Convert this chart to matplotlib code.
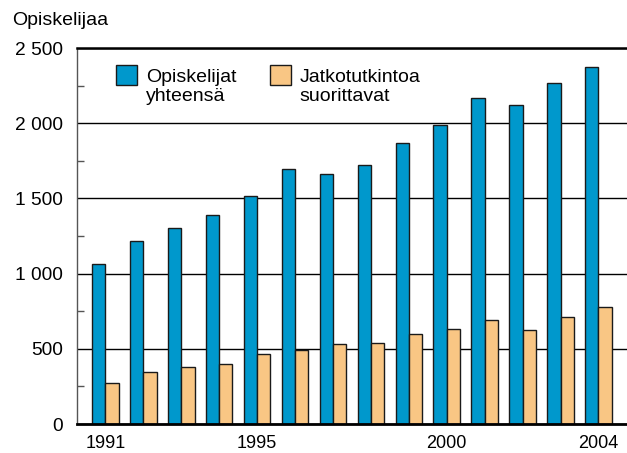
import numpy as np
import matplotlib.pyplot as plt
from matplotlib.patches import Rectangle
from matplotlib.ticker import MultipleLocator, FuncFormatter

plt.rcParams['font.family'] = ['Liberation Sans', 'DejaVu Sans']

years = np.arange(1991, 2005)
opiskelijat = [1066, 1217, 1303, 1388, 1518, 1693, 1664, 1724, 1868, 1988, 2168, 2123, 2265, 2376]
jatko = [275, 344, 377, 401, 468, 492, 532, 541, 598, 629, 689, 623, 714, 780]
xticks = [1991, 1995, 2000, 2004]
series_labels = [['Opiskelijat', 'yhteensä'], ['Jatkotutkintoa', 'suorittavat']]

blue = '#0098CC'
orange = '#F9C684'
edge = '#1a1a1a'
w = 0.35

fig = plt.figure(figsize=(6.27, 4.53), dpi=100)
ax = fig.add_axes([0.1228, 0.064, 0.877, 0.830])

ax.bar(years - w / 2, opiskelijat, width=w, color=blue, edgecolor=edge,
       linewidth=1.0, zorder=3)
ax.bar(years + w / 2, jatko, width=w, color=orange, edgecolor=edge,
       linewidth=1.0, zorder=3)

ax.set_xlim(1990.25, 2004.75)
ax.set_ylim(0, 2500)

ax.yaxis.set_major_locator(MultipleLocator(500))
ax.yaxis.set_minor_locator(MultipleLocator(250))
ax.yaxis.set_major_formatter(FuncFormatter(lambda v, p: f'{int(v):,}'.replace(',', ' ')))
ax.grid(axis='y', which='major', color='black', linewidth=1.0, zorder=1)
ax.tick_params(axis='y', which='major', length=0, pad=10, labelsize=13.8)
ax.tick_params(axis='y', which='minor', direction='in', length=5, width=1, color='#555555')

ax.set_xticks(xticks)
ax.set_xticklabels([str(y) for y in xticks])
ax.tick_params(axis='x', length=0, pad=8, labelsize=13)

ax.spines['right'].set_visible(False)
ax.spines['top'].set_linewidth(1.8)
ax.spines['bottom'].set_linewidth(2.0)
ax.spines['left'].set_color('#555555')
ax.spines['left'].set_linewidth(1.0)
ax.spines['bottom'].set_zorder(4)

# legend: square swatch aligned with the first line of a two-line label
for (sx, tx), color, lines in zip([(0.0704, 0.125), (0.351, 0.405)],
                                   [blue, orange], series_labels):
    ax.add_patch(Rectangle((sx, 0.9016), 0.0382, 0.0532, transform=ax.transAxes,
                           facecolor=color, edgecolor=edge, linewidth=1.0,
                           zorder=5, clip_on=False))
    for i, line in enumerate(lines):
        ax.text(tx, 0.9088 - i * 0.0497, line, transform=ax.transAxes,
                fontsize=14, va='baseline', ha='left', zorder=5)

fig.text(0.019, 0.955, 'Opiskelijaa', fontsize=14, va='center', ha='left')

fig.savefig('out.png', dpi=100)
